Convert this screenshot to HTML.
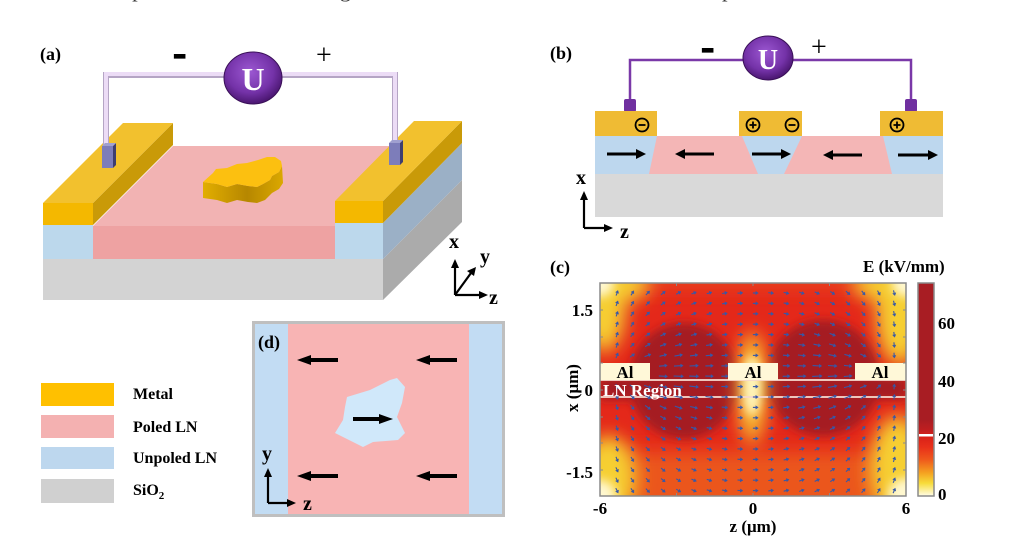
<!DOCTYPE html>
<html><head><meta charset="utf-8"><style>
html,body{margin:0;padding:0;background:#fff;width:1010px;height:545px;overflow:hidden}
svg{display:block}
text{font-family:"Liberation Serif",serif}
</style></head><body>
<svg id="root" width="1010" height="545" viewBox="0 0 1010 545" xmlns="http://www.w3.org/2000/svg">
<defs>
 <radialGradient id="ug" cx="45%" cy="38%" r="62%"><stop offset="0" stop-color="#9c58d2"/><stop offset="0.65" stop-color="#7432a8"/><stop offset="1" stop-color="#4a1670"/></radialGradient>
 <linearGradient id="blobside" x1="0" x2="1"><stop offset="0" stop-color="#e2ae00"/><stop offset="0.55" stop-color="#b68700"/><stop offset="1" stop-color="#dba800"/></linearGradient>
 <linearGradient id="cb" x1="0" y1="0" x2="0" y2="1">
  <stop offset="0" stop-color="#a81d23"/><stop offset="0.64" stop-color="#a81d23"/>
  <stop offset="0.69" stop-color="#c01e20"/><stop offset="0.72" stop-color="#d82018"/>
  <stop offset="0.77" stop-color="#e8301a"/><stop offset="0.83" stop-color="#ef5a1c"/>
  <stop offset="0.89" stop-color="#f5a020"/><stop offset="0.94" stop-color="#f7dc3a"/>
  <stop offset="1" stop-color="#fffde8"/>
 </linearGradient>
 <clipPath id="cp"><rect x="600" y="283" width="306" height="213"/></clipPath>
 <filter id="bl" filterUnits="userSpaceOnUse" x="540" y="230" width="440" height="330"><feGaussianBlur stdDeviation="9"/></filter>
 <filter id="bm" filterUnits="userSpaceOnUse" x="540" y="230" width="440" height="330"><feGaussianBlur stdDeviation="4.5"/></filter>
 <filter id="bs" filterUnits="userSpaceOnUse" x="540" y="230" width="440" height="330"><feGaussianBlur stdDeviation="5"/></filter>
</defs>

<!-- clipped text line at top -->
<text x="65" y="-3" font-size="20" fill="#333" textLength="805" lengthAdjust="spacingAndGlyphs">S we repeat the above domain growth simulations for the three-electrode poled structures.</text>

<!-- ================= (a) ================= -->
<text x="40" y="60" font-size="18" font-weight="bold">(a)</text>
<text x="173" y="66" font-size="40" font-weight="bold" stroke="#000" stroke-width="1.2" font-family="Liberation Sans, sans-serif">-</text>
<text x="316" y="64" font-size="28" font-family="Liberation Sans, sans-serif">+</text>

<!-- right side faces -->
<polygon points="383,259 462,180 462,222 383,300" fill="#ababab"/>
<polygon points="383,223 462,143 462,180 383,259" fill="#9bb0c6"/>
<!-- pink top -->
<polygon points="93,226 335,226 415,146 173,146" fill="#f2b3b3"/>
<!-- front faces -->
<rect x="93" y="226" width="242" height="33" fill="#eea2a2"/>
<rect x="43" y="223" width="50" height="36" fill="#bcd8ec"/>
<rect x="335" y="223" width="48" height="36" fill="#bcd8ec"/>
<rect x="43" y="259" width="340" height="41" fill="#d3d3d3"/>
<!-- left electrode -->
<polygon points="93,203 173,123 173,145 93,225" fill="#c99a08"/>
<polygon points="43,203 93,203 173,123 123,123" fill="#f2c12e"/>
<rect x="43" y="203" width="50" height="22" fill="#f4b800"/>
<!-- right electrode -->
<polygon points="383,201 462,121 462,143 383,223" fill="#c99a08"/>
<polygon points="335,201 383,201 462,121 414,121" fill="#f2c12e"/>
<rect x="335" y="201" width="48" height="22" fill="#f4b800"/>

<!-- blob -->
<polygon points="203,182 217,184 227,187 237,184 248,186 257,187 263,184 270,180 272,176 279,172 282,166 283,183 279,189 272,193 265,200 257,203 248,202 237,200 227,203 217,200 203,198" fill="url(#blobside)"/>
<polygon points="203,182 213,173 216,169 227,168 237,164 247,163 258,160 267,157 275,157 281,161 282,166 279,172 272,176 270,180 263,184 257,187 248,186 237,184 227,187 217,184" fill="#fcc010"/>

<!-- wire -->
<path d="M106,148 V75 H395 V144" fill="none" stroke="#b5a5c5" stroke-width="6"/>
<path d="M106,148 V74 H395 V144" fill="none" stroke="#ecdcf6" stroke-width="4"/>
<!-- connectors -->
<rect x="102" y="146" width="11" height="22" fill="#7d7dba"/>
<polygon points="113,146 116,143 116,165 113,168" fill="#3e3e70"/>
<polygon points="102,146 105,143 116,143 113,146" fill="#a0a0d0"/>
<rect x="389" y="143" width="11" height="22" fill="#7d7dba"/>
<polygon points="400,143 403,140 403,162 400,165" fill="#3e3e70"/>
<polygon points="389,143 392,140 403,140 400,143" fill="#a0a0d0"/>
<!-- U -->
<ellipse cx="253" cy="78" rx="29" ry="26" fill="url(#ug)" stroke="#3a1058" stroke-width="1"/>
<text x="253" y="90" font-size="32" font-weight="bold" fill="#fff" text-anchor="middle">U</text>

<!-- axes a -->
<g stroke="#000" stroke-width="2.2" fill="none">
 <path d="M455,295 V266"/><path d="M455,295 L471,273"/><path d="M455,295 H480"/>
</g>
<g fill="#000">
 <polygon points="455,259 451,268 459,268"/>
 <polygon points="476,267 467,271 474,276"/>
 <polygon points="488,295 479,291 479,299"/>
</g>
<text x="449" y="248" font-size="20" font-weight="bold">x</text>
<text x="480" y="263" font-size="20" font-weight="bold">y</text>
<text x="489" y="304" font-size="20" font-weight="bold">z</text>

<!-- ================= (b) ================= -->
<text x="550" y="59" font-size="18" font-weight="bold">(b)</text>
<text x="701" y="60" font-size="40" font-weight="bold" stroke="#000" stroke-width="1.2" font-family="Liberation Sans, sans-serif">-</text>
<text x="811" y="56" font-size="28" font-family="Liberation Sans, sans-serif">+</text>
<path d="M630,101 V60 H911 V101" fill="none" stroke="#7a38a8" stroke-width="2.5"/>
<rect x="624" y="99" width="12" height="13" rx="2" fill="#7030a0"/>
<rect x="905" y="99" width="12" height="13" rx="2" fill="#7030a0"/>
<ellipse cx="768" cy="58" rx="25" ry="22" fill="url(#ug)" stroke="#3a1058" stroke-width="1"/>
<text x="768" y="69" font-size="28" font-weight="bold" fill="#fff" text-anchor="middle">U</text>

<rect x="595" y="136" width="348" height="38" fill="#bdd7ee"/>
<polygon points="657,136 742,136 758,174 649,174" fill="#f4b6b6"/>
<polygon points="802,136 883,136 892,174 784,174" fill="#f4b6b6"/>
<rect x="595" y="174" width="348" height="43" fill="#d9d9d9"/>
<rect x="595" y="111" width="62" height="25" fill="#efbb34"/>
<rect x="739" y="111" width="63" height="25" fill="#efbb34"/>
<rect x="880" y="111" width="63" height="25" fill="#efbb34"/>
<g fill="none" stroke="#000" stroke-width="1.8">
 <circle cx="642" cy="125" r="6.5"/><path d="M638.5,125 H645.5"/>
 <circle cx="753" cy="125" r="6.5"/><path d="M749.5,125 H756.5 M753,121.5 V128.5"/>
 <circle cx="792" cy="125" r="6.5"/><path d="M788.5,125 H795.5"/>
 <circle cx="897" cy="125" r="6.5"/><path d="M893.5,125 H900.5 M897,121.5 V128.5"/>
</g>
<g stroke="#000" stroke-width="3">
 <path d="M607,154 H637"/><path d="M684,154 H714"/><path d="M752,154 H782"/><path d="M832,155 H862"/><path d="M898,155 H928"/>
</g>
<g fill="#000">
 <polygon points="646,154 636,149 636,159"/>
 <polygon points="675,154 685,149 685,159"/>
 <polygon points="791,154 781,149 781,159"/>
 <polygon points="823,155 833,150 833,160"/>
 <polygon points="938,155 928,150 928,160"/>
</g>
<g stroke="#000" stroke-width="2.2" fill="none"><path d="M584,228 V199"/><path d="M584,228 H605"/></g>
<g fill="#000"><polygon points="584,191 580,200 588,200"/><polygon points="613,228 604,224 604,232"/></g>
<text x="576" y="184" font-size="20" font-weight="bold">x</text>
<text x="620" y="238" font-size="20" font-weight="bold">z</text>

<!-- ================= (c) ================= -->
<text x="550" y="273" font-size="18" font-weight="bold">(c)</text>
<text x="863" y="272" font-size="17" font-weight="bold">E (kV/mm)</text>
<g clip-path="url(#cp)">
 <rect x="600" y="283" width="306" height="213" fill="#e4281a"/>
 <g filter="url(#bl)">
  <rect x="560" y="452" width="400" height="70" fill="#eb561c"/>
  <rect x="560" y="265" width="400" height="24" fill="#e9421a"/>
 </g>
 <g filter="url(#bm)">
  <ellipse cx="684" cy="381" rx="55" ry="58" fill="#a51c22"/>
  <ellipse cx="823" cy="378" rx="57" ry="58" fill="#a51c22"/>
  <rect x="600" y="376" width="306" height="24" fill="#a51c22"/>
 </g>
 <g filter="url(#bl)">
  <ellipse cx="604" cy="302" rx="22" ry="50" fill="#f6cf30"/>
  <ellipse cx="618" cy="285" rx="32" ry="16" fill="#f6cf30"/>
  <ellipse cx="900" cy="310" rx="24" ry="55" fill="#f6cf30"/>
  <ellipse cx="884" cy="285" rx="32" ry="15" fill="#f6cf30"/>
  <ellipse cx="608" cy="478" rx="28" ry="42" fill="#f6cf30"/>
  <ellipse cx="898" cy="468" rx="28" ry="52" fill="#f6cf30"/>
  <ellipse cx="752" cy="388" rx="14" ry="56" fill="#f8c830"/>
 </g>
 <g filter="url(#bs)">
  <ellipse cx="752" cy="386" rx="9" ry="30" fill="#fff6c0"/>
  <circle cx="600" cy="283" r="14" fill="#fff8d0"/>
  <circle cx="906" cy="283" r="14" fill="#fff8d0"/>
  <circle cx="600" cy="496" r="16" fill="#fff8d0"/>
  <circle cx="906" cy="496" r="18" fill="#fff8d0"/>
 </g>
 <g stroke="#f6d8cc" stroke-width="2" opacity="0.9"><path d="M600,380 H906"/><path d="M600,397 H906"/></g>
 <g id="qv" stroke="#3658a8" stroke-width="1.1" fill="#3658a8"></g>
 <rect x="600" y="363" width="50" height="17" fill="#fff8d8"/>
 <rect x="728" y="363" width="50" height="17" fill="#fff8d8"/>
 <rect x="855" y="363" width="51" height="17" fill="#fff8d8"/>
</g>
<rect x="600" y="283" width="306" height="213" fill="none" stroke="#8a8a8a" stroke-width="1.5"/>
<g stroke="#8a8a8a" stroke-width="1">
 <path d="M676.5,283 v3 M753,283 v3 M829.5,283 v3 M676.5,496 v-3 M753,496 v-3 M829.5,496 v-3"/>
 <path d="M600,310 h3 M600,337 h3 M600,363 h3 M600,390 h3 M600,417 h3 M600,443 h3 M600,470 h3"/>
 <path d="M906,310 h-3 M906,337 h-3 M906,363 h-3 M906,390 h-3 M906,417 h-3 M906,443 h-3 M906,470 h-3"/>
</g>
<text x="625" y="378" font-size="17" font-weight="bold" text-anchor="middle">Al</text>
<text x="753" y="378" font-size="17" font-weight="bold" text-anchor="middle">Al</text>
<text x="880" y="378" font-size="17" font-weight="bold" text-anchor="middle">Al</text>
<text x="603" y="396" font-size="17" font-weight="bold" fill="#fff">LN Region</text>

<text x="593" y="316" font-size="17" font-weight="bold" text-anchor="end">1.5</text>
<text x="593" y="396" font-size="17" font-weight="bold" text-anchor="end">0</text>
<text x="593" y="478" font-size="17" font-weight="bold" text-anchor="end">-1.5</text>
<text x="600" y="514" font-size="17" font-weight="bold" text-anchor="middle">-6</text>
<text x="753" y="514" font-size="17" font-weight="bold" text-anchor="middle">0</text>
<text x="906" y="514" font-size="17" font-weight="bold" text-anchor="middle">6</text>
<text x="753" y="532" font-size="17" font-weight="bold" text-anchor="middle">z (μm)</text>
<text transform="translate(578,388) rotate(-90)" font-size="17" font-weight="bold" text-anchor="middle">x (μm)</text>

<rect x="918" y="283" width="16" height="213" fill="url(#cb)" stroke="#8a8a8a" stroke-width="1.5"/>
<rect x="919" y="434" width="14" height="2.5" fill="#fff"/>
<text x="938" y="329" font-size="17" font-weight="bold">60</text>
<text x="938" y="387" font-size="17" font-weight="bold">40</text>
<text x="938" y="444" font-size="17" font-weight="bold">20</text>
<text x="938" y="500" font-size="17" font-weight="bold">0</text>

<!-- ================= legend ================= -->
<rect x="41" y="383" width="73" height="23" fill="#ffc000"/>
<rect x="41" y="415" width="73" height="23" fill="#f4b1b1"/>
<rect x="41" y="447" width="73" height="22" fill="#bdd7ee"/>
<rect x="41" y="479" width="73" height="24" fill="#d0d0d0"/>
<text x="133" y="399" font-size="16" font-weight="bold">Metal</text>
<text x="133" y="432" font-size="16" font-weight="bold">Poled LN</text>
<text x="133" y="463" font-size="16" font-weight="bold">Unpoled LN</text>
<text x="133" y="495" font-size="16" font-weight="bold">SiO<tspan font-size="11" dy="4">2</tspan></text>

<!-- ================= (d) ================= -->
<rect x="253.5" y="322.5" width="250" height="193" fill="#c2dcf3" stroke="#bfbfbf" stroke-width="3"/>
<rect x="288" y="324" width="181" height="190" fill="#f8b4b4"/>
<polygon points="397,378 405,387 402,403 397,417 405,433 398,440 373,442 363,447 353,442 335,433 343,420 345,407 347,397 370,390 390,380" fill="#d0e8fa"/>
<text x="258" y="348" font-size="18" font-weight="bold">(d)</text>
<g fill="#000">
 <rect x="309" y="358" width="29" height="4"/><polygon points="297,360 311,355 311,365"/>
 <rect x="428" y="358" width="29" height="4"/><polygon points="416,360 430,355 430,365"/>
 <rect x="309" y="474" width="29" height="4"/><polygon points="297,476 311,471 311,481"/>
 <rect x="428" y="474" width="29" height="4"/><polygon points="416,476 430,471 430,481"/>
 <rect x="353" y="417" width="28" height="4"/><polygon points="393,419 379,414 379,424"/>
</g>
<g stroke="#000" stroke-width="2.2" fill="none"><path d="M268,503 V476"/><path d="M268,503 H288"/></g>
<g fill="#000"><polygon points="268,468 264,477 272,477"/><polygon points="296,503 287,499 287,507"/></g>
<text x="262" y="460" font-size="20" font-weight="bold">y</text>
<text x="303" y="510" font-size="20" font-weight="bold">z</text>
</svg>
<script>
(function(){
var NS="http://www.w3.org/2000/svg",g=document.getElementById('qv');
var ch=[[612,372,1],[894,372,-1]];
for(var i=0;i<19;i++)for(var j=0;j<20;j++){
 var x=617+i*15.4,y=293+j*10.4;
 if(y>359&&y<382&&(x<653||(x>725&&x<781)||x>851))continue;
 var ex=0,ey=0;
 for(var k=0;k<2;k++){var dx=x-ch[k][0],dy=y-ch[k][1],r2=dx*dx+dy*dy+100;ex+=ch[k][2]*dx/r2;ey+=ch[k][2]*dy/r2;}
 var m=Math.sqrt(ex*ex+ey*ey)||1,ux=ex/m,uy=ey/m;
 var d=Math.min(Math.sqrt(Math.pow((x-683)/60,2)+Math.pow((y-380)/55,2)),Math.sqrt(Math.pow((x-823)/60,2)+Math.pow((y-378)/55,2)));
 var L=5.5+(d<1?5*(1-d):0);
 var x1=x-ux*L/2,y1=y-uy*L/2,x2=x+ux*L/2,y2=y+uy*L/2,hx=x2-ux*2.6,hy=y2-uy*2.6;
 var ln=document.createElementNS(NS,'line');
 ln.setAttribute('x1',x1.toFixed(1));ln.setAttribute('y1',y1.toFixed(1));
 ln.setAttribute('x2',hx.toFixed(1));ln.setAttribute('y2',hy.toFixed(1));
 g.appendChild(ln);
 var p=document.createElementNS(NS,'polygon');
 p.setAttribute('stroke-width','0.4');
 p.setAttribute('points',x2.toFixed(1)+','+y2.toFixed(1)+' '+(hx-uy*1.7).toFixed(1)+','+(hy+ux*1.7).toFixed(1)+' '+(hx+uy*1.7).toFixed(1)+','+(hy-ux*1.7).toFixed(1));
 g.appendChild(p);
}
})();
</script>
</body></html>
